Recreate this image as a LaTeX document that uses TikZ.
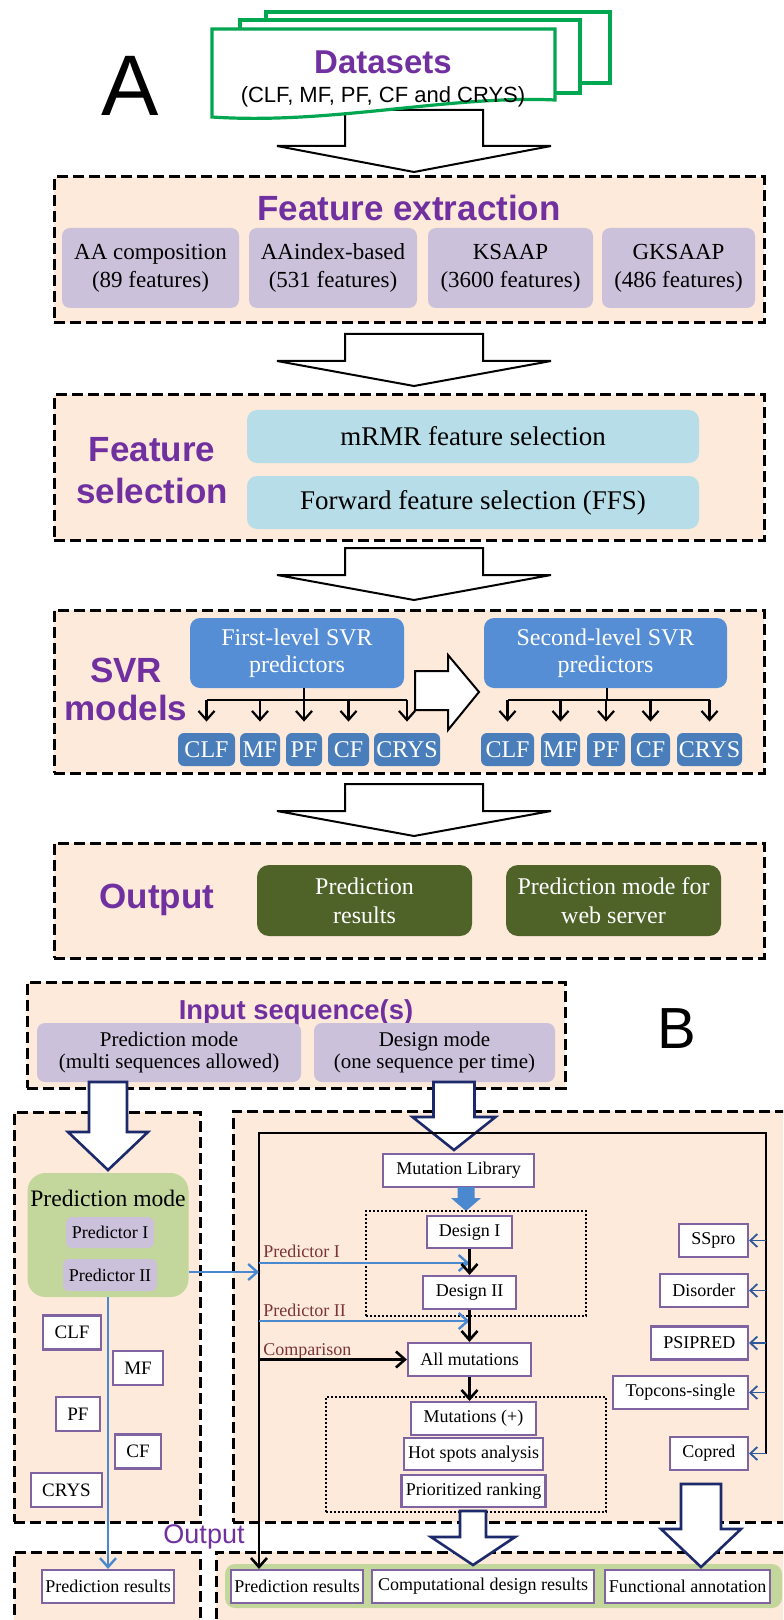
\documentclass[tikz,border=0pt]{standalone}
\usepackage{fontspec}
\setmainfont{Liberation Serif}
\newfontfamily\headfont{Liberation Sans}
\usetikzlibrary{arrows.meta}

\definecolor{hpurple}{HTML}{7030A0}
\definecolor{peach}{HTML}{FDEADA}
\definecolor{lavender}{HTML}{CCC1DA}
\definecolor{selblue}{HTML}{B7DEE8}
\definecolor{svrblue}{HTML}{558ED5}
\definecolor{clsblue}{HTML}{4A7EBB}
\definecolor{outgreen}{HTML}{4F6228}
\definecolor{pmgreen}{HTML}{C3D69B}
\definecolor{docgreen}{HTML}{00A650}
\definecolor{boxpurple}{HTML}{8064A2}
\definecolor{navyblue}{HTML}{1C2A6B}
\definecolor{linkblue}{HTML}{4A89CF}
\definecolor{toolblue}{HTML}{2E5A9C}
\definecolor{lblbrown}{HTML}{7B3535}

% block arrow pointing down: style, x, top, shoulder, tip, half shaft, half head
\newcommand{\blockdown}[7]{%
  \path[#1] ({#2-#6},#3) -- ({#2+#6},#3) -- ({#2+#6},#4) -- ({#2+#7},#4)
    -- (#2,#5) -- ({#2-#7},#4) -- ({#2-#6},#4) -- cycle;}

\begin{document}
\begin{tikzpicture}[x=0.5pt,y=-0.5pt,>={Straight Barb[length=4.5pt,width=8pt]},
  wh/.style 2 args={minimum width=#1*0.5pt,minimum height=#2*0.5pt},
  grp/.style={draw,line width=1.5pt,dash pattern=on 5.5pt off 2.5pt,fill=peach,inner sep=0pt},
  head/.style={font=\headfont\bfseries\fontsize{17.5}{21}\selectfont,text=hpurple,align=center},
  letter/.style={font=\headfont\fontsize{43}{43}\selectfont},
  doc/.style={draw=docgreen,line width=1.6pt,fill=white},
  hollow/.style={draw=black,line width=1pt,fill=white},
  navyarr/.style={draw=navyblue,line width=1.3pt,fill=white},
  lav/.style={fill=lavender,rounded corners=4pt,align=center,inner sep=1pt},
  featfont/.style={font=\fontsize{11.5}{14}\selectfont},
  sel/.style={fill=selblue,rounded corners=5pt,inner sep=1pt,font=\fontsize{13.5}{16}\selectfont},
  svr/.style={fill=svrblue,rounded corners=5pt,text=white,align=center,inner sep=1pt,font=\fontsize{12}{13.5}\selectfont},
  cls/.style={fill=clsblue,rounded corners=3pt,text=white,inner sep=0pt,font=\fontsize{12}{13}\selectfont},
  res/.style={fill=outgreen,rounded corners=6pt,text=white,align=center,inner sep=1pt,font=\fontsize{12}{14.5}\selectfont},
  tree/.style={draw,line width=1.1pt},
  treearr/.style={tree,->,shorten >=5.5pt},
  pmbox/.style={fill=pmgreen,rounded corners=9pt,inner sep=0pt},
  wbox/.style={draw=boxpurple,line width=1.1pt,fill=white,inner sep=1pt,font=\fontsize{9}{10}\selectfont},
  dotbox/.style={draw,line width=0.9pt,dash pattern=on 0.9pt off 1.1pt,inner sep=0pt},
  blk/.style={draw=black,line width=1.3pt},
  link/.style={draw=linkblue,line width=1.2pt},
  tool/.style={draw=toolblue,line width=0.9pt,>={Straight Barb[length=3.5pt,width=6.5pt]}},
  lbl/.style={anchor=west,text=lblbrown,inner sep=0pt,font=\fontsize{9}{10}\selectfont}]
\path[use as bounding box,clip] (0,0) rectangle (783,1620);

% A: datasets
\node[letter] (la) at (130,86) {A};
\blockdown{hollow}{414}{110}{146}{172}{69}{137}
\draw[doc] (266,12) rectangle (610,83);
\draw[doc] (240,20) rectangle (580,93);
\draw[doc] (212,29) -- (555,29) -- (555,100) .. controls (450,95) and (330,125) .. (212,117) -- cycle;
\node[head,font=\headfont\bfseries\fontsize{16.5}{20}\selectfont] (ds) at (383,62) {Datasets};
\node[font=\headfont\fontsize{11}{13}\selectfont] (dsl) at (383,97) {(CLF, MF, PF, CF and CRYS)};

% feature extraction
\node[grp,wh={710}{146}] (fe) at (409,250) {};
\node[head] (fet) at (409,208) {Feature extraction};
\foreach \cx/\w/\nm/\txt in {150.5/177/fa/{AA composition\\(89 features)},
    333/168/fb/{AAindex-based\\(531 features)},510.5/165/fc/{KSAAP\\(3600 features)},
    678.5/153/fd/{GKSAAP\\(486 features)}}
  \node[lav,featfont,wh={\w}{80}] (\nm) at (\cx,268) {\txt};
\blockdown{hollow}{414}{334}{361}{386}{69}{137}

% feature selection
\node[grp,wh={710}{145}] (fs) at (409,467.5) {};
\node[head] (fst) at (152,471) {Feature\\selection};
\node[sel,wh={452}{53}] (mr) at (473,436.5) {mRMR feature selection};
\node[sel,wh={452}{53}] (ffs) at (473,502.5) {Forward feature selection (FFS)};
\blockdown{hollow}{414}{548}{575}{600}{69}{137}

% SVR models
\node[grp,wh={710}{163}] (sv) at (409,691.5) {};
\node[head,font=\headfont\bfseries\fontsize{17.5}{19}\selectfont] (svt) at (126,689) {SVR\\models};
\node[svr,wh={214}{70}] (svr1) at (297,653) {First-level SVR\\predictors};
\node[svr,wh={243}{70}] (svr2) at (605.5,653) {Second-level SVR\\predictors};
\draw[hollow] (415,671) -- (448,671) -- (448,655) -- (479,692) -- (448,730) -- (448,710) -- (415,710) -- cycle;
\foreach \i/\cx/\w/\t in {1/206.5/57/CLF,2/260/40/MF,3/304/36/PF,4/348.5/41/CF,5/407/66/CRYS}
  \node[cls,wh={\w}{33}] (l\i) at (\cx,749.5) {\t};
\foreach \i/\cx/\w/\t in {1/507.5/53/CLF,2/560.5/39/MF,3/606/38/PF,4/650.5/39/CF,5/709.5/65/CRYS}
  \node[cls,wh={\w}{33}] (r\i) at (\cx,749.5) {\t};
\coordinate (b1) at (304,700);
\coordinate (b2) at (607,700);
\draw[tree] (b1 |- svr1.south) -- (b1);
\draw[tree] (b2 |- svr2.south) -- (b2);
\draw[tree] (l1.north |- b1) -- (l5.north |- b1);
\draw[tree] (r1.north |- b2) -- (r5.north |- b2);
\foreach \i in {1,...,5} {
  \draw[treearr] (l\i.north |- b1) -- (l\i.north);
  \draw[treearr] (r\i.north |- b2) -- (r\i.north);
}
\blockdown{hollow}{414}{784}{811}{836}{69}{137}

% output
\node[grp,wh={710}{115}] (op) at (409,900.5) {};
\node[head] (opt) at (157,900) {Output};
\node[res,wh={215}{71}] (pr) at (364.5,900.5) {Prediction\\results};
\node[res,wh={215}{71}] (pw) at (613.5,900.5) {Prediction mode for\\web server};

% B: input
\node[grp,wh={538}{106}] (inp) at (296,1035) {};
\node[head,font=\headfont\bfseries\fontsize{13.7}{16}\selectfont] (inpt) at (296,1012) {Input sequence(s)};
\node[lav,font=\fontsize{10.5}{11}\selectfont,wh={264}{59}] (im1) at (169,1052.5) {Prediction mode\\(multi sequences allowed)};
\node[lav,font=\fontsize{10.5}{11}\selectfont,wh={241}{59}] (im2) at (434.5,1052.5) {Design mode\\(one sequence per time)};
\node[letter,font=\headfont\fontsize{29}{29}\selectfont] (lb) at (677,1029) {B};

\node[grp,wh={186}{410}] (lf) at (107,1317) {};
\node[grp,wh={567}{411}] (rf) at (516.5,1316.5) {};
\node[grp,wh={186}{120}] (lf2) at (107,1612) {};
\node[grp,wh={584}{120}] (rf2) at (508,1612) {};
\blockdown{navyarr}{108}{1082}{1132}{1170}{19}{40}
\blockdown{navyarr}{454}{1082}{1117}{1150}{20.5}{41.5}

% prediction mode
\node[pmbox,wh={161}{124}] (pm) at (108,1235) {};
\node[font=\fontsize{11.8}{13}\selectfont] (pmt) at (108,1198) {Prediction mode};
\node[lav,rounded corners=3pt,font=\fontsize{9}{10}\selectfont,wh={88}{31}] (pi1) at (110,1232.5) {Predictor I};
\node[lav,rounded corners=3pt,font=\fontsize{9}{10}\selectfont,wh={94}{32}] (pi2) at (110,1275) {Predictor II};
\foreach \nm/\cx/\cy/\w/\t in {cl/72/1332.5/58/CLF,mf/138/1368/50/MF,pf/78/1414/44/PF,cf/138/1451.5/46/CF,cr/66.5/1490/71/CRYS}
  \node[wbox,font=\fontsize{9.5}{10}\selectfont,wh={\w}{34}] (\nm) at (\cx,\cy) {\t};

% design mode
\coordinate (fl) at (259,1133);
\coordinate (fr) at (766,1133);
\node[wbox,wh={151}{33}] (ml) at (458.5,1170.5) {Mutation Library};
\blockdown{fill=linkblue}{466}{1187}{1198}{1211}{8.5}{15}
\node[dotbox,wh={220}{105}] (dz1) at (476,1263.5) {};
\node[wbox,wh={85}{32}] (d1) at (469.5,1232) {Design I};
\node[wbox,wh={93}{33}] (d2) at (469.5,1292.5) {Design II};
\node[wbox,wh={123}{33}] (allm) at (469.5,1359.5) {All mutations};
\node[dotbox,wh={280}{115}] (dz2) at (466,1454.5) {};
\node[wbox,wh={125}{33}] (mut) at (473.5,1418.5) {Mutations (+)};
\node[wbox,wh={139}{32}] (hot) at (473.5,1454) {Hot spots analysis};
\node[wbox,wh={144}{32}] (pri) at (473.5,1491) {Prioritized ranking};
\foreach \nm/\cy/\w/\t in {ss/1240.5/69/SSpro,dis/1290.5/88/Disorder,psi/1343/97/PSIPRED,tcs/1392.5/135/Topcons-single,cop/1453.5/78/Copred}
  \node[wbox,anchor=east,wh={\w}{33}] (\nm) at (749,\cy) {\t};
\node[lbl] (lp1) at (263,1251) {Predictor I};
\node[lbl] (lp2) at (263,1310) {Predictor II};
\node[lbl] (lcmp) at (263,1351) {Comparison};

% output of B
\node[font=\headfont\fontsize{13.5}{15}\selectfont,text=hpurple] (outb) at (204,1537) {Output};
\node[pmbox,rounded corners=5pt,wh={557}{44}] (band) at (503.5,1586) {};
\node[wbox,wh={132}{33}] (res0) at (108,1586.5) {Prediction results};
\node[wbox,wh={132}{33}] (res1) at (297,1586.5) {Prediction results};
\node[wbox,wh={222}{33}] (cdr) at (483,1586.5) {Computational design results};
\node[wbox,wh={165}{33}] (fan) at (687.5,1586.5) {Functional annotation};
\blockdown{navyarr}{473}{1511}{1537}{1565}{13}{42}
\blockdown{navyarr}{701}{1484}{1529}{1567}{20}{40}

% connectors
\coordinate (pin) at (259,1272);
\coordinate (p1) at (259,1263);
\coordinate (p2) at (259,1321);
\draw[blk,->] (cop.east -| fr) -- (fr) -- (fl) -- (res1.north -| fl);
\foreach \nm in {ss,dis,psi,tcs,cop} \draw[tool,->] (\nm.east -| fr) -- (\nm.east);
\draw[link,->] (pm.east |- pin) -- (pin);
\draw[link,->] (pm.south) -- (res0.north);
\draw[link,->] (p1) -- (p1 -| d1.south);
\draw[link,->] (p2) -- (p2 -| d2.south);
\draw[blk,->] (d1) -- (d2);
\draw[blk,->] (d2) -- (allm);
\draw[blk,->] (allm.south) -- (allm.south |- mut.north);
\draw[blk,->] (fl |- allm.west) -- (allm.west);
\end{tikzpicture}
\end{document}
